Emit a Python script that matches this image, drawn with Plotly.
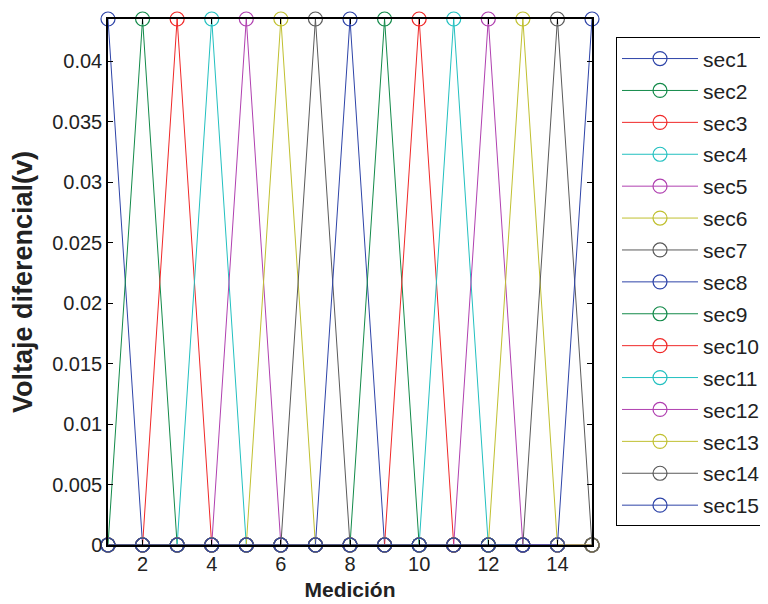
import plotly.graph_objects as go

mediciones = list(range(1, 16))
peak_value = 0.0435
series_names = [f"sec{i}" for i in range(1, 16)]
# each series k is peak at medición k, zero elsewhere
series_values = [[peak_value if m == k else 0.0 for m in mediciones] for k in range(1, 16)]
colors_cycle = ["#2e44a8", "#138a4a", "#f02828", "#22c0c0", "#b040b0", "#c0c030", "#5a5a5a"]
x_ticks = [2, 4, 6, 8, 10, 12, 14]
y_ticks = [0, 0.005, 0.01, 0.015, 0.02, 0.025, 0.03, 0.035, 0.04]
y_tick_labels = ["0", "0.005", "0.01", "0.015", "0.02", "0.025", "0.03", "0.035", "0.04"]

fig = go.Figure()
for i, (name, vals) in enumerate(zip(series_names, series_values)):
    c = colors_cycle[i % len(colors_cycle)]
    fig.add_trace(go.Scatter(
        x=mediciones, y=vals, name=name, mode="lines+markers",
        line=dict(color=c, width=1),
        marker=dict(symbol="circle-open", size=14, color=c, line=dict(width=1.2, color=c)),
        cliponaxis=False, legendgroup=name,
    ))

font = "Arial, Liberation Sans, sans-serif"
fig.update_layout(
    width=760, height=596,
    margin=dict(l=100, r=176, t=11, b=59, autoexpand=False),
    paper_bgcolor="white", plot_bgcolor="white",
    font=dict(family=font, size=20, color="#222222"),
    showlegend=True,
    legend=dict(
        x=1.0496, y=0.965, xanchor="left", yanchor="top",
        bordercolor="black", borderwidth=1, bgcolor="white",
        font=dict(family=font, size=21, color="#222222"),
        tracegroupgap=1.6, itemwidth=76,
    ),
    xaxis=dict(
        range=[1, 15], tickvals=x_ticks, ticks="inside", ticklen=5,
        showline=True, linecolor="black", linewidth=1.5, mirror="allticks",
        showgrid=False, zeroline=False, tickcolor="black",
        title=dict(text="<b>Medición</b>", font=dict(family=font, size=21, color="#222222"), standoff=9),
    ),
    yaxis=dict(
        range=[0, peak_value], tickvals=y_ticks, ticktext=y_tick_labels,
        ticks="inside", ticklen=5,
        showline=True, linecolor="black", linewidth=1.5, mirror="allticks",
        showgrid=False, zeroline=False, tickcolor="black",
        title=dict(text="<b>Voltaje diferencial(v)</b>", font=dict(family=font, size=27, color="#222222"), standoff=14),
    ),
)
fig.write_html("out.html")
